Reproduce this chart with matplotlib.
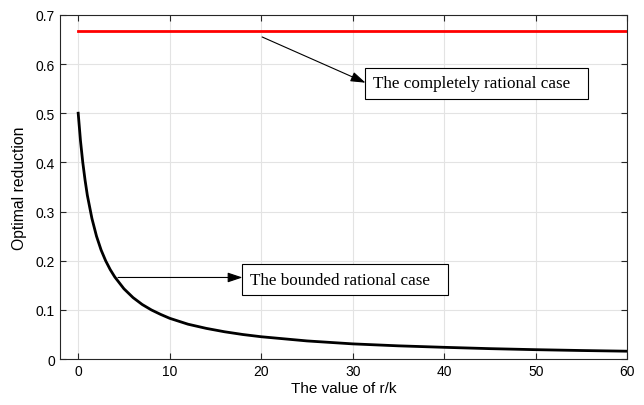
import matplotlib
matplotlib.use("Agg")
import matplotlib.pyplot as plt
from matplotlib.patches import Rectangle

# Values
rk = [0, 0.25, 0.5, 0.75, 1, 1.5, 2, 2.5, 3, 3.5, 4, 5, 6, 7, 8, 9, 10,
      12, 14, 16, 18, 20, 25, 30, 35, 40, 45, 50, 55, 60]
bounded = [0.500, 0.444, 0.400, 0.364, 0.333, 0.286, 0.250, 0.222, 0.200,
           0.182, 0.167, 0.143, 0.125, 0.111, 0.100, 0.091, 0.083,
           0.071, 0.0625, 0.0556, 0.050, 0.0455, 0.037, 0.031, 0.027,
           0.024, 0.0213, 0.0192, 0.0175, 0.0161]
rational_x = [0, 60]
rational_y = [0.667, 0.667]

xlabel = "The value of r/k"
ylabel = "Optimal reduction"
label_rational = "The completely rational case"
label_bounded = "The bounded rational case"

fig = plt.figure(figsize=(6.44, 4.06), dpi=100)
ax = fig.add_axes([0.093, 0.113, 0.881, 0.848])

ax.plot(rational_x, rational_y, color="#ff0000", lw=2)
ax.plot(rk, bounded, color="black", lw=2)

ax.set_xlim(-2, 60)
ax.set_ylim(0, 0.7)
ax.set_xticks([0, 10, 20, 30, 40, 50, 60])
ax.set_yticks([0, 0.1, 0.2, 0.3, 0.4, 0.5, 0.6, 0.7])
ax.set_yticklabels(["0", "0.1", "0.2", "0.3", "0.4", "0.5", "0.6", "0.7"])
ax.grid(True, color="#e3e3e3", lw=0.8)
ax.set_axisbelow(True)
ax.tick_params(direction="in", top=True, right=True, length=4, width=0.8,
               labelsize=10, colors="#262626", labelcolor="black")
for lab in ax.get_xticklabels() + ax.get_yticklabels():
    lab.set_family("Liberation Sans")
for s in ax.spines.values():
    s.set_color("#262626")
    s.set_linewidth(0.8)

ax.set_xlabel(xlabel, fontsize=11, family="Liberation Sans", labelpad=2)
ax.set_ylabel(ylabel, fontsize=11.3, family="Liberation Sans", labelpad=6)

arrow = dict(arrowstyle="-|>,head_length=0.9,head_width=0.3", color="black",
             lw=0.8, shrinkA=0, shrinkB=0)

# Completely rational annotation
ax.annotate("", xy=(31.4, 0.562), xytext=(20.1, 0.655), arrowprops=arrow)
ax.add_patch(Rectangle((31.37, 0.529), 55.7 - 31.37, 0.592 - 0.529,
                       fc="white", ec="black", lw=0.8, zorder=4))
ax.text(32.25, 0.5605, label_rational, fontsize=12.3, family="Liberation Serif",
        va="center", ha="left", zorder=5)

# Bounded rational annotation
ax.annotate("", xy=(17.95, 0.166), xytext=(4.35, 0.166), arrowprops=arrow)
ax.add_patch(Rectangle((17.95, 0.130), 40.4 - 17.95, 0.1933 - 0.130,
                       fc="white", ec="black", lw=0.8, zorder=4))
ax.text(18.8, 0.1617, label_bounded, fontsize=12.3, family="Liberation Serif",
        va="center", ha="left", zorder=5)

fig.savefig("out.png", dpi=100)
